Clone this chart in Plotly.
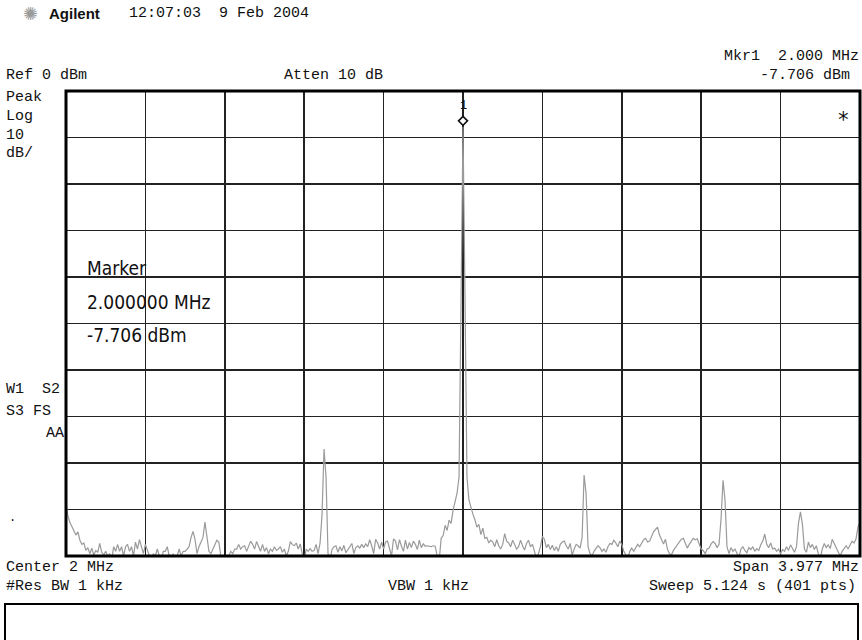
import numpy as np
import plotly.graph_objects as go

# ---------------- data ----------------
center_mhz = 2.0
span_mhz = 3.977
n_points = 401
ref_level_dbm = 0
db_per_div = 10
n_div = 10

mkr_freq_mhz = 2.000
mkr_amp_dbm = -7.706

# trace levels (dBm), 401 sweep points
level_dbm = [
    -88.7, -91.5, -92.8, -93.8, -94.4, -95.5, -94.8, -96.6, -97.5, -97.2,
    -98.8, -98.2, -99.5, -98.3, -99.8, -98.8, -99.2, -97.3, -99.2, -99.8,
    -99.0, -100.0, -99.5, -101.0, -98.0, -99.0, -97.5, -99.0, -98.0, -100.0,
    -98.0, -97.5, -99.0, -98.0, -100.0, -97.0, -98.5, -96.5, -98.0, -99.5,
    -97.5, -99.0, -100.0, -101.0, -99.5, -100.0, -98.5, -100.0, -101.0, -99.0,
    -99.0, -98.0, -100.0, -101.0, -99.5, -101.0, -100.0, -98.5, -100.0, -99.0,
    -99.0, -98.5, -98.0, -96.0, -94.7, -96.5, -99.5, -98.0, -97.0, -96.0,
    -92.7, -96.5, -99.0, -99.5, -98.5, -97.5, -96.6, -97.0, -100.0, -101.0,
    -101.0, -100.5, -100.0, -99.0, -99.5, -98.5, -98.5, -97.5, -98.5, -98.0,
    -97.8, -99.0, -98.0, -96.8, -97.5, -98.5, -96.9, -98.0, -99.0, -97.5,
    -99.0, -98.2, -99.5, -98.5, -99.0, -98.0, -98.8, -98.5, -98.0, -99.2,
    -98.5, -100.0, -99.0, -96.9, -97.5, -97.8, -97.2, -98.5, -97.4, -99.5,
    -101.0, -98.5, -99.0, -98.4, -99.0, -98.8, -97.5, -99.5, -97.2, -91.0,
    -77.0, -83.0, -99.5, -101.0, -98.6, -98.0, -97.8, -99.2, -98.0, -98.9,
    -97.7, -99.3, -98.5, -98.0, -97.3, -99.5, -98.2, -97.8, -98.3, -97.5,
    -98.2, -97.4, -98.0, -96.5, -97.8, -99.5, -96.4, -97.2, -98.5, -97.0,
    -98.5, -97.0, -96.8, -98.4, -100.0, -96.3, -96.8, -98.7, -96.5, -97.9,
    -99.0, -96.6, -98.5, -97.1, -98.2, -96.8, -97.5, -98.6, -96.6, -98.2,
    -97.4, -97.9, -97.8, -97.9, -98.0, -97.8, -97.9, -100.0, -101.0, -96.2,
    -95.6, -93.4, -94.5, -92.3, -93.0, -90.2, -88.5, -86.5, -83.0, -43.0,
    -7.706, -44.0, -83.0, -88.0, -89.7, -91.0, -92.2, -93.8, -93.2, -95.4,
    -94.0, -96.2, -96.0, -97.2, -96.6, -97.0, -98.0, -96.5, -97.8, -98.5,
    -97.5, -95.2, -96.8, -97.2, -98.0, -96.6, -97.5, -98.5, -98.0, -96.6,
    -97.8, -98.7, -97.3, -96.6, -98.0, -97.5, -99.0, -100.5, -99.5, -98.0,
    -95.8, -96.4, -98.2, -97.5, -98.6, -97.7, -98.8, -98.0, -99.0, -97.5,
    -97.0, -96.8, -97.8, -98.5, -97.3, -99.8, -98.5, -97.5, -97.8, -98.3,
    -96.0, -82.6, -86.5, -98.0, -99.5, -100.0, -99.0, -98.3, -97.8, -98.2,
    -99.0, -98.5, -99.2, -98.0, -97.3, -97.5, -96.6, -97.2, -98.0, -96.8,
    -97.5, -99.0, -99.8, -100.5, -99.0, -98.3, -99.0, -98.2, -97.5, -98.0,
    -97.2, -96.5, -96.2, -97.0, -96.8, -95.8, -94.8, -94.3, -93.8, -95.5,
    -96.3, -97.4, -96.4, -98.5, -99.5, -99.8, -98.8, -98.2, -97.8, -97.2,
    -96.4, -96.2, -97.5, -98.3, -97.5, -96.8, -96.2, -96.5, -96.3, -97.4,
    -98.5, -98.8, -99.5, -98.5, -98.3, -97.4, -96.9, -97.3, -98.2, -97.5,
    -92.0, -83.7, -88.0, -98.0, -99.5, -98.2, -99.0, -98.5, -99.5, -100.3,
    -98.5, -98.0, -98.8, -99.3, -98.2, -98.6, -98.0, -99.0, -98.4, -98.8,
    -97.6, -96.8, -95.3, -97.5, -98.2, -97.2, -98.5, -98.3, -99.0, -98.5,
    -99.5, -98.6, -99.0, -98.0, -98.8, -97.6, -98.4, -99.2, -98.0, -93.0,
    -90.5, -93.2, -98.5, -99.2, -97.0, -98.2, -97.5, -98.6, -97.8, -99.5,
    -100.5, -98.5, -97.3, -98.2, -97.6, -98.4, -96.4, -97.3, -98.5, -99.2,
    -100.0, -99.0, -98.5, -97.8, -98.5, -97.5, -96.8, -97.2, -96.3, -93.7,
    -92.8,
]

header_left = "12:07:03  9 Feb 2004"
marker_lines = ["Marker", "2.000000 MHz", "-7.706 dBm"]
left_status = ["Peak", "Log", "10", "dB/"]

# ---------------- figure ----------------
f_start = center_mhz - span_mhz / 2
f_stop = center_mhz + span_mhz / 2
freq_mhz = np.linspace(f_start, f_stop, len(level_dbm))
y_bottom = ref_level_dbm - db_per_div * n_div

W, H = 862, 640
ML, MR, MT, MB = 66, 2, 91, 84
PW, PH = W - ML - MR, H - MT - MB

def px(x):
    return (x - ML) / PW

def py(y):
    return (H - MB - y) / PH

MONO = "Liberation Mono, DejaVu Sans Mono, monospace"
NARROW = "Liberation Sans Narrow, DejaVu Sans Condensed, Arial Narrow, sans-serif"
TXT = "#111111"

fig = go.Figure()
fig.add_trace(go.Scatter(
    x=freq_mhz, y=level_dbm, mode="lines",
    line=dict(color="#9a9a9a", width=1.2),
    hoverinfo="skip", showlegend=False,
))

ann = []
def text(x, y, s, size=15, family=MONO, xanchor="left", color=TXT, bold=False):
    if bold:
        s = "<b>" + s + "</b>"
    ann.append(dict(x=px(x), y=py(y), xref="paper", yref="paper", text=s,
                    showarrow=False, xanchor=xanchor, yanchor="middle",
                    font=dict(family=family, size=size, color=color)))

text(21, 13, "✺", size=18, family="DejaVu Sans", color="#9a9a9a")
text(47, 13, "Agilent", size=15, family="Liberation Sans, Arial, sans-serif", bold=True)
text(127, 13, header_left, size=15)
text(861, 56, "Mkr1  2.000 MHz", size=15, xanchor="right")
text(4, 75, "Ref 0 dBm", size=15)
text(282, 75, "Atten 10 dB", size=15)
text(852, 75, "-7.706 dBm", size=15, xanchor="right")
for i, s in enumerate(left_status):
    text(4, 98 + i * 18.5, s, size=15)
text(4, 389, "W1  S2", size=15)
text(4, 411, "S3 FS", size=15)
text(66, 434, "AA", size=15, xanchor="right")
for i, s in enumerate(marker_lines):
    text(85, 268 + i * 33.5, s, size=19, family=NARROW)
text(843, 120, "*", size=21, family="DejaVu Sans Mono", xanchor="center")
text(4, 567, "Center 2 MHz", size=15)
text(4, 586, "#Res BW 1 kHz", size=15)
text(386, 586, "VBW 1 kHz", size=15)
text(861, 567, "Span 3.977 MHz", size=15, xanchor="right")
text(858, 586, "Sweep 5.124 s (401 pts)", size=15, xanchor="right")
text(7, 518, ".", size=12)

# marker number, placed above the marker point
ann.append(dict(x=mkr_freq_mhz, y=mkr_amp_dbm, xref="x", yref="y", text="1",
                showarrow=False, yshift=21, xanchor="center", yanchor="middle",
                font=dict(family=MONO, size=12, color=TXT)))

shapes = [
    dict(type="rect", xref="paper", yref="paper", x0=0, x1=1, y0=0, y1=1,
         line=dict(color="#000000", width=3), layer="above"),
    dict(type="rect", xref="paper", yref="paper", x0=px(5), x1=px(858),
         y0=py(604), y1=py(642), line=dict(color="#000000", width=2), layer="above"),
    # marker diamond, sized in pixels and anchored at the marker point
    dict(type="path", xref="x", yref="y", xsizemode="pixel", ysizemode="pixel",
         xanchor=mkr_freq_mhz, yanchor=mkr_amp_dbm,
         path="M -4.5 6 L 0 10.5 L 4.5 6 L 0 1.5 Z",
         line=dict(color="#111111", width=1.6), fillcolor="white", layer="above"),
]

fig.update_layout(
    width=W, height=H,
    margin=dict(l=ML, r=MR, t=MT, b=MB, pad=0),
    paper_bgcolor="white", plot_bgcolor="white",
    showlegend=False, hovermode=False,
    annotations=ann, shapes=shapes,
    xaxis=dict(range=[f_start, f_stop], tick0=f_start, dtick=span_mhz / n_div,
               showgrid=True, gridcolor="#222222", gridwidth=1.6,
               showticklabels=False, ticks="", zeroline=False, fixedrange=True),
    yaxis=dict(range=[y_bottom, ref_level_dbm], tick0=y_bottom, dtick=db_per_div,
               showgrid=True, gridcolor="#222222", gridwidth=1.6,
               showticklabels=False, ticks="", zeroline=False, fixedrange=True),
)

fig.write_html("out.html", config={"displayModeBar": False, "staticPlot": True},
               post_script="document.body.style.margin='0';document.body.style.overflow='hidden';")
